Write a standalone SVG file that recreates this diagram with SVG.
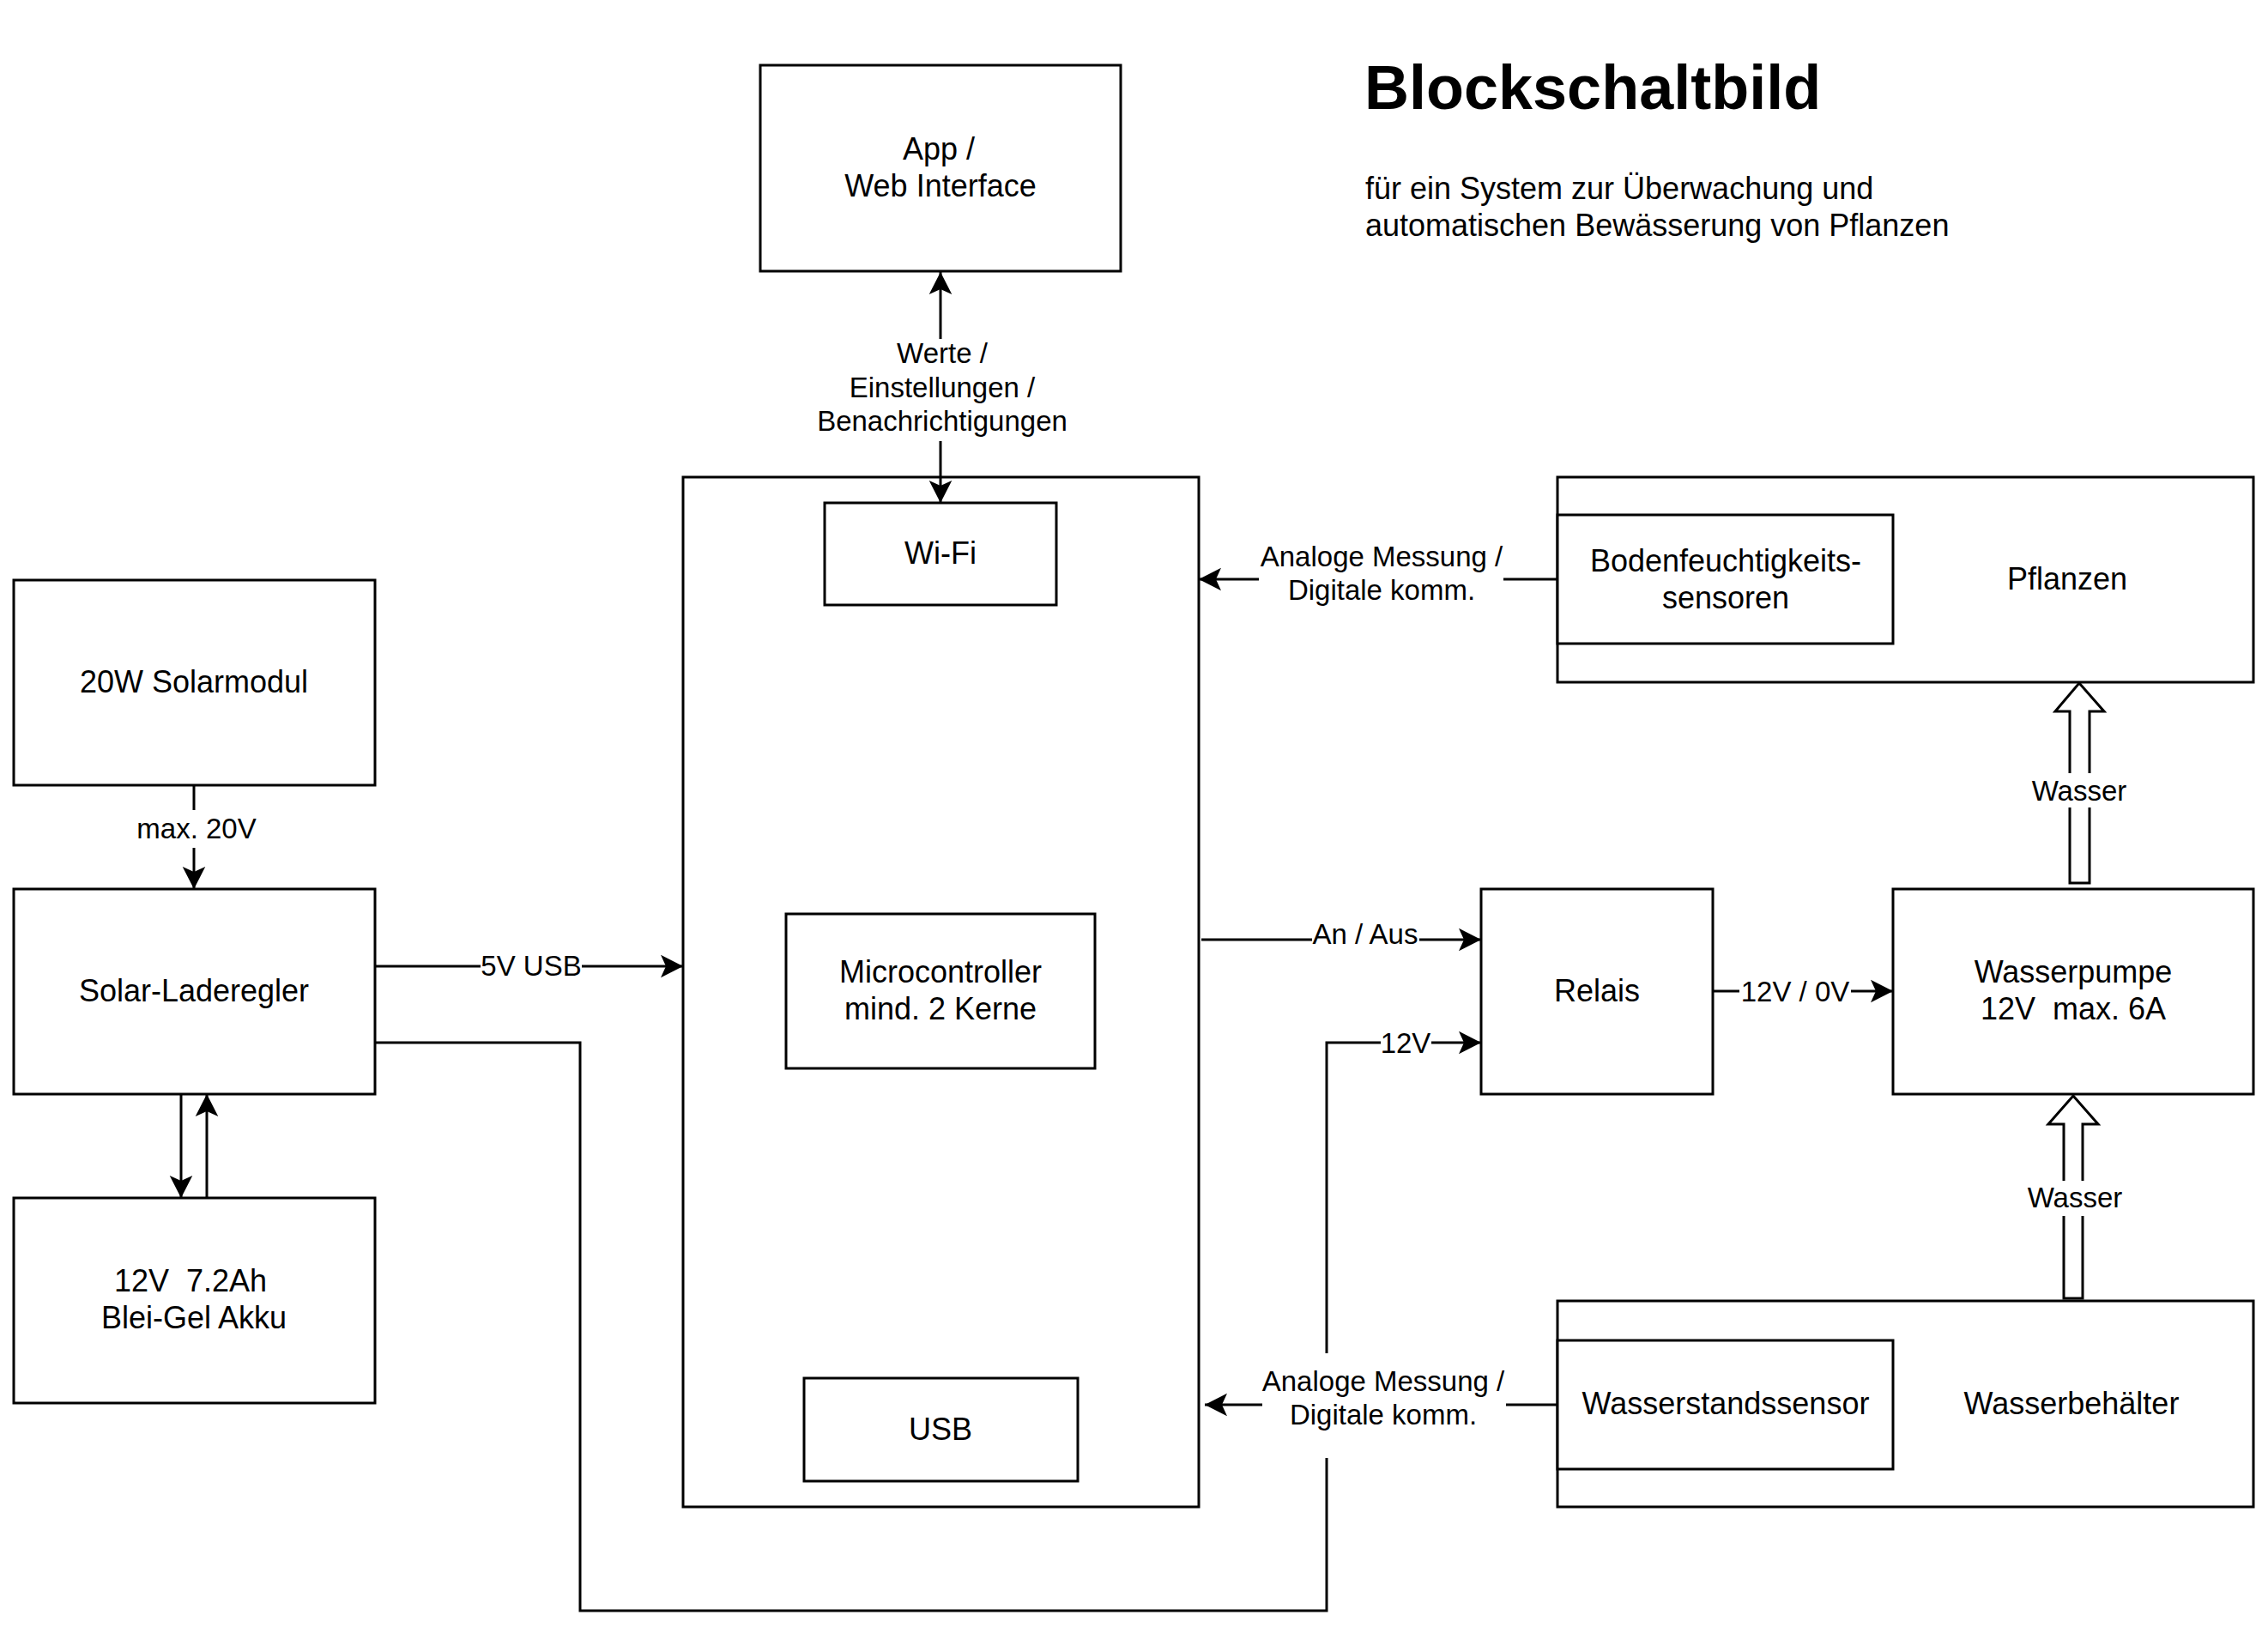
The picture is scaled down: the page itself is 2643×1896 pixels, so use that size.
<svg xmlns="http://www.w3.org/2000/svg" width="2643" height="1896" viewBox="0 0 2643 1896">
<style>
  .box { fill: #ffffff; stroke: #000000; stroke-width: 3; }
  .ln { fill: none; stroke: #000000; stroke-width: 3; }
  .t { font-family: "Liberation Sans", Arial, sans-serif; font-size: 36px; fill: #000000; text-anchor: middle; white-space: pre; }
  .el { font-family: "Liberation Sans", Arial, sans-serif; font-size: 33px; fill: #000000; text-anchor: middle; white-space: pre; }
  .title { font-family: "Liberation Sans", Arial, sans-serif; font-size: 72px; font-weight: bold; fill: #000000; }
  .sub { font-family: "Liberation Sans", Arial, sans-serif; font-size: 36px; fill: #000000; }
  .hollow { fill: #ffffff; stroke: #000000; stroke-width: 3; stroke-linejoin: miter; }
</style>
<defs>
  <marker id="arr" markerUnits="userSpaceOnUse" markerWidth="28" markerHeight="28" refX="26" refY="13.3" orient="auto" overflow="visible">
    <path d="M0,0 L26,13.3 L0,26.6 L6,13.3 Z" fill="#000000" stroke="none"/>
  </marker>
</defs>
<rect x="0" y="0" width="2643" height="1896" fill="#ffffff"/>

<g id="title">
  <text class="title" x="1590" y="127">Blockschaltbild</text>
  <text class="sub" x="1591" y="232">für ein System zur Überwachung und</text>
  <text class="sub" x="1591" y="275">automatischen Bewässerung von Pflanzen</text>
</g>

<g id="node-app">
  <rect class="box" x="886" y="76" width="420" height="240"/>
  <text class="t" x="1094" y="186">App /</text>
  <text class="t" x="1096" y="229">Web Interface</text>
</g>

<g id="node-mcu-board">
  <rect class="box" x="796" y="556" width="601" height="1200"/>
</g>
<g id="node-wifi">
  <rect class="box" x="961" y="586" width="270" height="119"/>
  <text class="t" x="1096" y="657">Wi-Fi</text>
</g>
<g id="node-microcontroller">
  <rect class="box" x="916" y="1065" width="360" height="180"/>
  <text class="t" x="1096" y="1145">Microcontroller</text>
  <text class="t" x="1096" y="1188">mind. 2 Kerne</text>
</g>
<g id="node-usb">
  <rect class="box" x="937" y="1606" width="319" height="120"/>
  <text class="t" x="1096" y="1678">USB</text>
</g>

<g id="node-solarmodul">
  <rect class="box" x="16" y="676" width="421" height="239"/>
  <text class="t" x="226" y="807">20W Solarmodul</text>
</g>
<g id="node-laderegler">
  <rect class="box" x="16" y="1036" width="421" height="239"/>
  <text class="t" x="226" y="1167">Solar-Laderegler</text>
</g>
<g id="node-akku">
  <rect class="box" x="16" y="1396" width="421" height="239"/>
  <text class="t" x="222" y="1505">12V  7.2Ah</text>
  <text class="t" x="226" y="1548">Blei-Gel Akku</text>
</g>

<g id="node-pflanzen">
  <rect class="box" x="1815" y="556" width="811" height="239"/>
  <text class="t" x="2409" y="687">Pflanzen</text>
</g>
<g id="node-bodenfeuchtigkeit">
  <rect class="box" x="1815" y="600" width="391" height="150"/>
  <text class="t" x="2011" y="666">Bodenfeuchtigkeits-</text>
  <text class="t" x="2011" y="709">sensoren</text>
</g>

<g id="node-relais">
  <rect class="box" x="1726" y="1036" width="270" height="239"/>
  <text class="t" x="1861" y="1167">Relais</text>
</g>
<g id="node-wasserpumpe">
  <rect class="box" x="2206" y="1036" width="420" height="239"/>
  <text class="t" x="2416" y="1145">Wasserpumpe</text>
  <text class="t" x="2416" y="1188">12V  max. 6A</text>
</g>

<g id="node-wasserbehaelter">
  <rect class="box" x="1815" y="1516" width="811" height="240"/>
  <text class="t" x="2414" y="1648">Wasserbehälter</text>
</g>
<g id="node-wasserstandssensor">
  <rect class="box" x="1815" y="1562" width="391" height="150"/>
  <text class="t" x="2011" y="1648">Wasserstandssensor</text>
</g>

<g id="connectors">
  <!-- App <-> Wi-Fi -->
  <path class="ln" d="M1096,395 V317" marker-end="url(#arr)"/>
  <path class="ln" d="M1096,514 V586" marker-end="url(#arr)"/>
  <text class="el" x="1098" y="423">Werte /</text>
  <text class="el" x="1098" y="463">Einstellungen /</text>
  <text class="el" x="1098" y="502">Benachrichtigungen</text>

  <!-- Solarmodul -> Laderegler -->
  <path class="ln" d="M226,915 V944"/>
  <path class="ln" d="M226,988 V1036" marker-end="url(#arr)"/>
  <text class="el" x="229" y="977">max. 20V</text>

  <!-- Laderegler -> MCU 5V USB -->
  <path class="ln" d="M437,1126 H560"/>
  <path class="ln" d="M678,1126 H796" marker-end="url(#arr)"/>
  <text class="el" x="619" y="1137">5V USB</text>

  <!-- Laderegler <-> Akku -->
  <path class="ln" d="M211,1275 V1396" marker-end="url(#arr)"/>
  <path class="ln" d="M241,1396 V1275" marker-end="url(#arr)"/>

  <!-- Laderegler -> Relais 12V -->
  <path class="ln" d="M437,1215 H676 V1877 H1546 V1699"/>
  <path class="ln" d="M1546,1577 V1215 H1609"/>
  <path class="ln" d="M1668,1215 H1726" marker-end="url(#arr)"/>
  <text class="el" x="1638" y="1227">12V</text>

  <!-- MCU -> Relais An / Aus -->
  <path class="ln" d="M1400,1095 H1529"/>
  <path class="ln" d="M1654,1095 H1726" marker-end="url(#arr)"/>
  <text class="el" x="1591" y="1100">An / Aus</text>

  <!-- Relais -> Pumpe -->
  <path class="ln" d="M1996,1155 H2027"/>
  <path class="ln" d="M2157,1155 H2206" marker-end="url(#arr)"/>
  <text class="el" x="2092" y="1167">12V / 0V</text>

  <!-- Bodenfeuchtigkeit -> MCU -->
  <path class="ln" d="M1815,675 H1752"/>
  <path class="ln" d="M1467,675 H1397" marker-end="url(#arr)"/>
  <text class="el" x="1610" y="660">Analoge Messung /</text>
  <text class="el" x="1610" y="699">Digitale komm.</text>

  <!-- Wasserstandssensor -> MCU -->
  <path class="ln" d="M1815,1637 H1755"/>
  <path class="ln" d="M1471,1637 H1404" marker-end="url(#arr)"/>
  <text class="el" x="1612" y="1621">Analoge Messung /</text>
  <text class="el" x="1612" y="1660">Digitale komm.</text>

  <!-- Wasser: Pumpe -> Pflanzen -->
  <polygon class="hollow" points="2423,796 2452,829 2435,829 2435,1029 2412,1029 2412,829 2395,829"/>
  <rect x="2366" y="901" width="114" height="40" fill="#ffffff"/>
  <text class="el" x="2423" y="933">Wasser</text>

  <!-- Wasser: Behaelter -> Pumpe -->
  <polygon class="hollow" points="2416,1277 2445,1310 2427,1310 2427,1513 2405,1513 2405,1310 2387,1310"/>
  <rect x="2359" y="1376" width="114" height="41" fill="#ffffff"/>
  <text class="el" x="2418" y="1407">Wasser</text>
</g>
</svg>
